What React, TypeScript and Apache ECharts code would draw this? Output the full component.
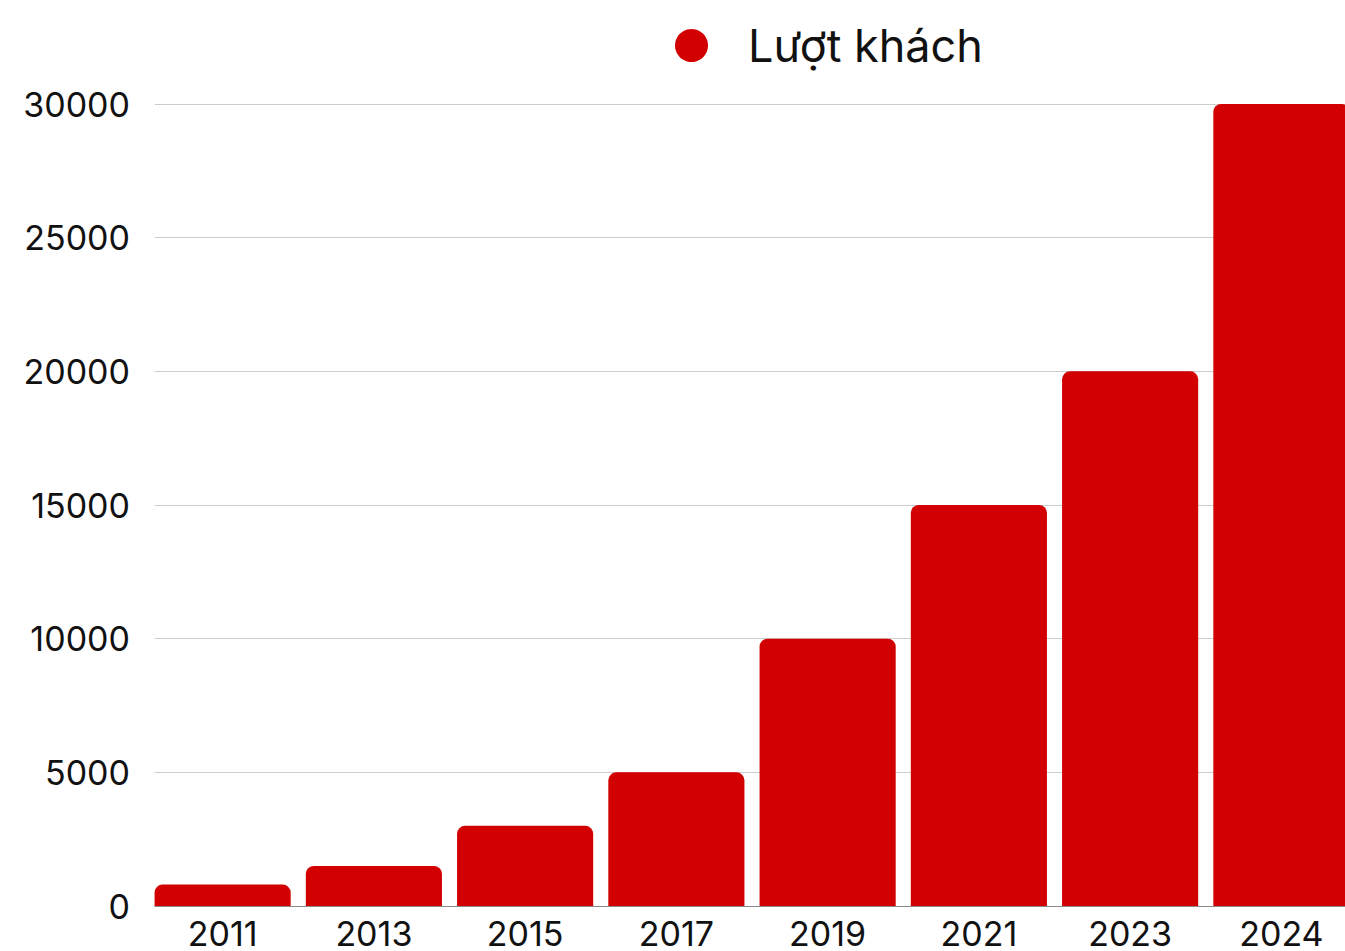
import React, { useEffect, useRef } from "react";
import * as echarts from "echarts";

const categories = ["2011", "2013", "2015", "2017", "2019", "2021", "2023", "2024"];
const visitors = [800, 1500, 3000, 5000, 10000, 15000, 20000, 30000];
const seriesName = "Lượt khách";
const yMin = 0;
const yMax = 30000;
const yInterval = 5000;

export default function App() {
  const ref = useRef<HTMLDivElement>(null);
  useEffect(() => {
    if (!ref.current) return;
    const chart = echarts.init(ref.current, undefined, { renderer: "svg" });
    const font = "Inter";
    chart.setOption({
      animation: false,
      backgroundColor: "#ffffff",
      textStyle: { fontFamily: font },
      legend: {
        left: 670,
        top: 18,
        itemWidth: 33,
        itemHeight: 33,
        icon: "circle",
        data: [seriesName],
        textStyle: { fontSize: 45, color: "#111111", fontFamily: font, padding: [0, 0, 0, 35] },
      },
      grid: [
        { left: 155, right: 15, top: 104, height: 802, containLabel: false },
        { left: 147, right: 3, top: 104, height: 802, containLabel: false },
      ],
      xAxis: [
        {
          type: "category",
          gridIndex: 0,
          data: categories,
          axisLine: { show: true, lineStyle: { color: "#8a8a8a", width: 1 } },
          axisTick: { show: false },
          axisLabel: { show: false },
          splitLine: { show: false },
        },
        {
          type: "category",
          gridIndex: 1,
          data: categories,
          axisLine: { show: false },
          axisTick: { show: false },
          axisLabel: { show: true, fontSize: 34, color: "#111111", margin: 10, fontFamily: font },
          splitLine: { show: false },
        },
      ],
      yAxis: [
        {
          type: "value",
          gridIndex: 0,
          min: yMin,
          max: yMax,
          interval: yInterval,
          axisLine: { show: false },
          axisTick: { show: false },
          axisLabel: {
            show: true,
            fontSize: 34,
            color: "#111111",
            margin: 25,
            fontFamily: font,
            formatter: (v: number) => String(v),
          },
          splitLine: { show: true, lineStyle: { color: "#cccccc", width: 1 } },
        },
        {
          type: "value",
          gridIndex: 1,
          min: yMin,
          max: yMax,
          interval: yInterval,
          axisLine: { show: false },
          axisTick: { show: false },
          axisLabel: { show: false },
          splitLine: { show: false },
        },
      ],
      series: [
        {
          name: seriesName,
          type: "bar",
          xAxisIndex: 1,
          yAxisIndex: 1,
          data: visitors,
          barCategoryGap: "10%",
          itemStyle: { color: "#d20000", borderRadius: [8, 8, 0, 0] },
          z: 3,
        },
      ],
    });
    return () => chart.dispose();
  }, []);
  return (
    <div
      style={{
        position: "fixed",
        left: 0,
        top: 0,
        width: 1345,
        height: 951,
        overflow: "hidden",
        background: "#ffffff",
      }}
    >
      <div ref={ref} style={{ width: 1360, height: 951 }} />
    </div>
  );
}
